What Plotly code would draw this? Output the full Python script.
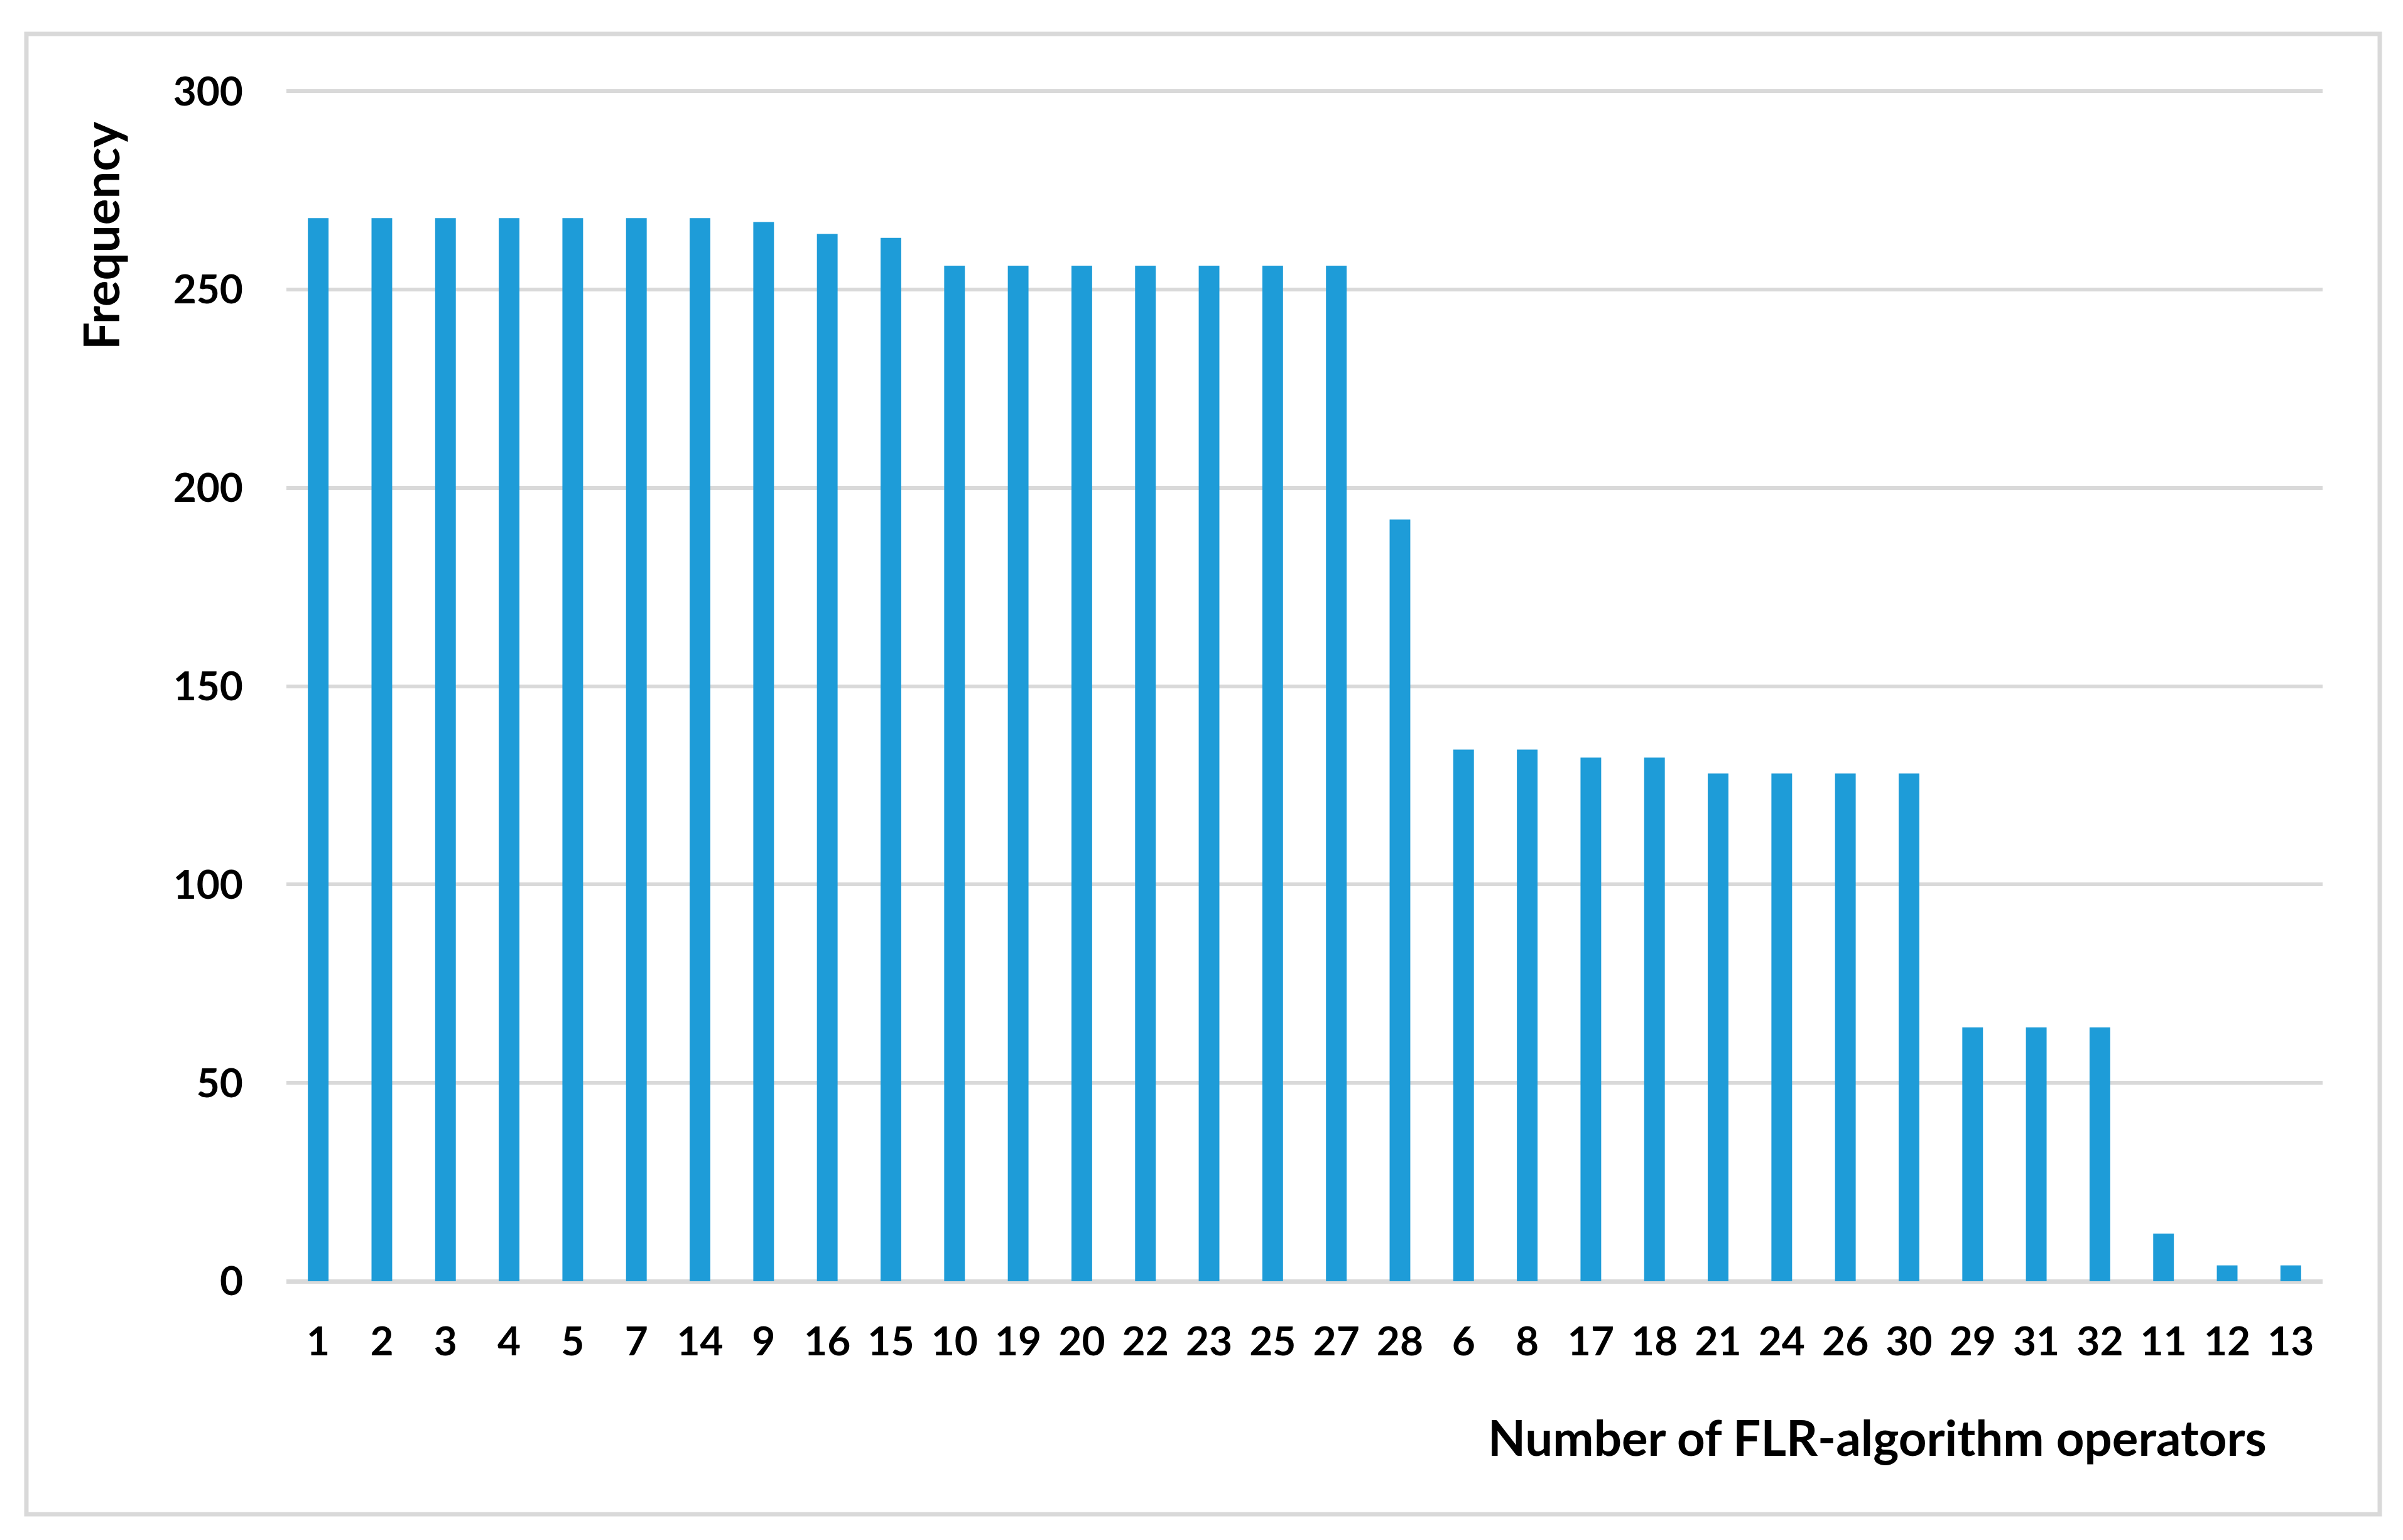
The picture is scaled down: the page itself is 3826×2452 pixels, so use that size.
import plotly.graph_objects as go

# ---- data ----
categories = ["1", "2", "3", "4", "5", "7", "14", "9", "16", "15", "10", "19", "20", "22",
              "23", "25", "27", "28", "6", "8", "17", "18", "21", "24", "26", "30", "29",
              "31", "32", "11", "12", "13"]
frequency = [268, 268, 268, 268, 268, 268, 268, 267, 264, 263, 256, 256, 256, 256,
             256, 256, 256, 192, 134, 134, 132, 132, 128, 128, 128, 128, 64,
             64, 64, 12, 4, 4]
y_ticks = [0, 50, 100, 150, 200, 250, 300]
x_title = "Number of FLR-algorithm operators"
y_title = "Frequency"

# ---- layout geometry (pixels, measured on the page; the page body adds an 8px offset) ----
OFF = 8
W, H = 3826 - 2 * OFF, 2452 - 2 * OFF
L, R = 456 - OFF, 3698 - OFF
Y300, B = 145 - OFF, 2040 - OFF      # pixel rows of value 300 and value 0
YMAX = 301.6                         # small headroom so the 300 gridline is drawn
T = B - (B - Y300) * YMAX / 300.0


def px(x):
    return (x - OFF - L) / (R - L)


def py(y):
    return (B - (y - OFF)) / (B - T)


FONT = "Lato"
BAR = "#1E9CD8"
GRID = "#D9D9D9"

fig = go.Figure(go.Bar(
    x=categories, y=frequency,
    marker=dict(color=BAR, line=dict(width=0)),
))

fig.update_layout(
    width=W, height=H,
    margin=dict(l=L, r=W - R, t=T, b=H - B, pad=0),
    paper_bgcolor="white", plot_bgcolor="white",
    bargap=0.675,
    showlegend=False,
    font=dict(family=FONT, color="black"),
)

fig.update_xaxes(
    type="category", categoryorder="array", categoryarray=categories,
    showgrid=False, zeroline=False, showline=False,
    ticks="", tickfont=dict(family=FONT, size=64, color="black", weight="bold"),
    ticklabelstandoff=53,
)
fig.update_yaxes(
    range=[0, YMAX], tickvals=y_ticks,
    showgrid=True, gridcolor=GRID, gridwidth=6,
    zeroline=True, zerolinecolor=GRID, zerolinewidth=7,
    showline=False, ticks="",
    tickfont=dict(family=FONT, size=64, color="black", weight="bold"),
    ticklabelstandoff=68,
)

# axis titles as annotations (positions in page pixels)
fig.add_annotation(
    text=x_title, xref="paper", yref="paper",
    x=px(3611), y=py(2288), xanchor="right", yanchor="middle",
    showarrow=False, font=dict(family=FONT, size=78, color="black", weight="bold"),
)
fig.add_annotation(
    text=y_title, xref="paper", yref="paper",
    x=px(160), y=py(375), xanchor="center", yanchor="middle", textangle=-90,
    showarrow=False, font=dict(family=FONT, size=78, color="black", weight="bold"),
)

# outer chart-area border
fig.add_shape(
    type="rect", xref="paper", yref="paper",
    x0=px(42), x1=px(3789), y0=py(2411), y1=py(54),
    line=dict(color=GRID, width=7), fillcolor="rgba(0,0,0,0)", layer="below",
)

fig.write_html("out.html")
